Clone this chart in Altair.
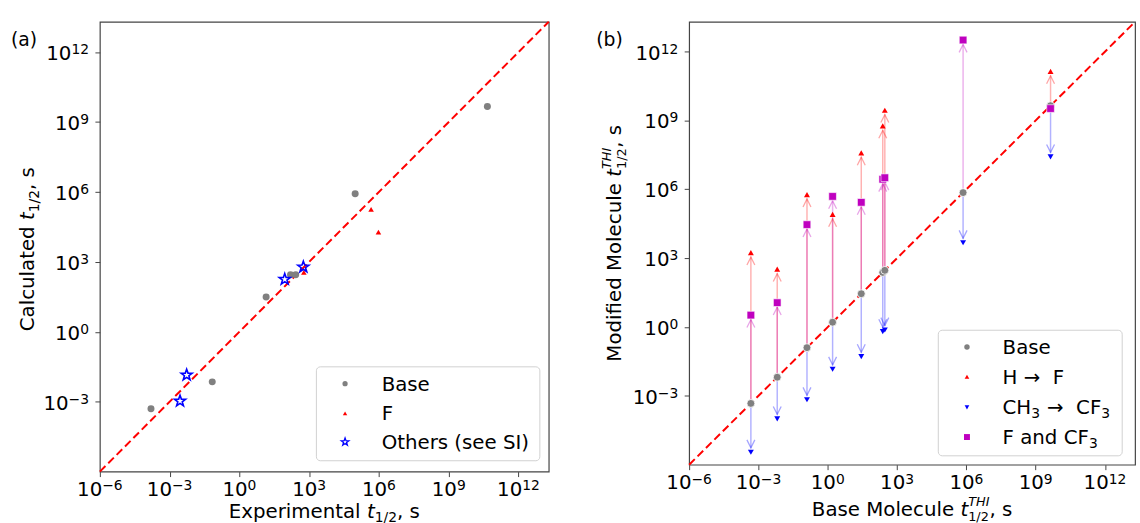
import math
import altair as alt
import pandas as pd

# ---------------- data: panel (a) ----------------
base_exp = [1.58e-4, 0.068, 14.1, 158, 263, 9.5e4, 4.6e10]
base_calc = [5.0e-4, 7.1e-3, 31, 282, 282, 8.3e5, 4.6e9]
f_exp = [589, 4.6e5, 9.5e5]
f_calc = [355, 1.8e5, 1.9e4]
oth_exp = [2.8e-3, 5.4e-3, 89, 562]
oth_calc = [1.07e-3, 0.014, 178, 603]

# ---------------- data: panel (b) ----------------
base_thi = [4.7e-4, 6.5e-3, 0.126, 1.62, 28.2, 240, 295, 7.2e5, 4.4e9]
h_to_f = [1.74e3, 331, 5.9e5, 8.1e4, 3.9e7, 5.8e8, 2.8e9, None, 1.38e11]
ch3_to_cf3 = [3.5e-6, 1.0e-4, 6.8e-4, 0.0145, 0.051, 0.63, 0.74, 4.7e3, 2.6e7]
f_and_cf3 = [3.3, 11.5, 2.9e4, 4.9e5, 2.7e5, 2.75e6, 3.2e6, 3.2e12, 3.3e9]

diag = [1e-6, 2e13]
tick_vals = [1e-6, 1e-3, 1, 1e3, 1e6, 1e9, 1e12]
tick_exps = ["−6", "−3", "0", "3", "6", "9", "12"]

NB = "\u00a0"
# legend pieces: (text, font size, baseline shift, gap before)
legend_a = [[("Base", 20, 0, 0)], [("F", 20, 0, 0)], [("Others (see SI)", 20, 0, 0)]]
legend_b = [[("Base", 20, 0, 0)], [("H" + NB + "→" + NB + NB + "F", 20, 0, 0)],
            [("CH", 20, 0, 0), ("3", 14, 4, 0), ("→" + NB + NB + "CF", 20, 0, 7), ("3", 14, 4, 0)],
            [("F and CF", 20, 0, 0), ("3", 14, 4, 0)]]
kinds = ["H → F", "CH3 → CF3", "F and CF3"]
kind_colors = ["#ff0000", "#0000ff", "#bf00bf"]

FONT = "DejaVu Sans"
W = {' ': 318, NB: 318, ',': 318, '/': 337, '−': 838, '→': 838, '(': 390, ')': 390,
     '0': 636, '1': 636, '2': 636, '3': 636, '6': 636, '9': 636,
     'C': 698, 'E': 632, 'B': 686, 'F': 575, 'M': 863, 'T': 611, 'H': 752,
     'I': 295, 'O': 787, 'S': 635,
     'a': 613, 'c': 550, 'd': 635, 'e': 615, 'f': 352, 'h': 634, 'i': 278,
     'l': 278, 'm': 974, 'n': 634, 'o': 612, 'p': 635, 'r': 411, 's': 521,
     't': 392, 'u': 634, 'x': 592}

one = pd.DataFrame({"k": [0]})


def text_width(s, size):
    return sum(W.get(ch, 600) for ch in s) * size / 1000.0


def make_axis(vals):
    return alt.Axis(values=vals, labels=False, title=None, grid=False, domain=False,
                    tickSize=5, tickColor="#444", tickWidth=1)


SC = alt.Scale(type="log", domain=diag, nice=False)
AX_X = make_axis(tick_vals)
AX_Y = make_axis(tick_vals[1:])


def X(f):
    return alt.X(f"{f}:Q", scale=SC, axis=AX_X)


def Y(f):
    return alt.Y(f"{f}:Q", scale=SC, axis=AX_Y)


TXT = dict(font=FONT, color="black", baseline="alphabetic")
W10 = text_width("10", 20)


def tick_label_layers(H):
    out = []
    for v, e in zip(tick_vals, tick_exps):
        d = pd.DataFrame({"v": [v]})
        we = text_width(e, 14)
        total = W10 + we
        out.append(alt.Chart(d).mark_text(text="10", fontSize=20, align="left",
                                          dx=-total / 2, **TXT).encode(
            x=X("v"), y=alt.value(H + 25)))
        out.append(alt.Chart(d).mark_text(text=e, fontSize=14, align="left",
                                          dx=-total / 2 + W10, **TXT).encode(
            x=X("v"), y=alt.value(H + 19)))
    for v, e in zip(tick_vals[1:], tick_exps[1:]):
        d = pd.DataFrame({"v": [v]})
        we = text_width(e, 14)
        out.append(alt.Chart(d).mark_text(text="10", fontSize=20, align="right",
                                          dy=8, **TXT).encode(
            x=alt.value(-11 - we), y=Y("v")))
        out.append(alt.Chart(d).mark_text(text=e, fontSize=14, align="right",
                                          dy=2, **TXT).encode(
            x=alt.value(-11), y=Y("v")))
    return out


def title_layers(groups, horizontal, center, base):
    adv = [max(text_width(t, s) for t, s, it, sh in g) for g in groups]
    total = sum(adv)
    out = []
    off = 0.0
    for g, a in zip(groups, adv):
        for t, s, it, sh in g:
            kw = dict(text=t, fontSize=s, fontStyle="italic" if it else "normal",
                      align="left", **TXT)
            if horizontal:
                m = alt.Chart(one).mark_text(**kw).encode(
                    x=alt.value(center - total / 2 + off), y=alt.value(base + sh))
            else:
                m = alt.Chart(one).mark_text(angle=270, **kw).encode(
                    x=alt.value(base + sh), y=alt.value(center + total / 2 - off))
            out.append(m)
        off += a
    return out


def legend_layers(box, sym_x, text_x, rows):
    out = [alt.Chart(one).mark_rect(cornerRadius=4, fill="white", fillOpacity=0.8,
                                    stroke="#d0d0d0", strokeWidth=1).encode(
        x=alt.value(box[0]), y=alt.value(box[1]),
        x2=alt.value(box[2]), y2=alt.value(box[3]))]
    for parts, py, mk in rows:
        out.append(alt.Chart(one).mark_point(opacity=1, **mk).encode(
            x=alt.value(sym_x), y=alt.value(py)))
        off = 0.0
        for t, s, sh, gap in parts:
            off += gap
            out.append(alt.Chart(one).mark_text(text=t, fontSize=s, align="left", **TXT).encode(
                x=alt.value(text_x + off), y=alt.value(py + 7 + sh)))
            off += text_width(t, s)
    return out


# star symbol path
pts = []
for k in range(10):
    r = 1.0 if k % 2 == 0 else 0.4
    a = math.radians(-90 + 36 * k)
    pts.append(f"{r * math.cos(a):.3f},{r * math.sin(a):.3f}")
STAR = "M" + "L".join(pts) + "Z"
CHEV_UP = "M-0.5,1L0,0L0.5,1"
CHEV_DN = "M-0.5,-1L0,0L0.5,-1"

# ---------------- panel (a) ----------------
df_diag = pd.DataFrame({"v": diag})
df_base_a = pd.DataFrame({"x": base_exp, "y": base_calc})
df_f_a = pd.DataFrame({"x": f_exp, "y": f_calc})
df_o_a = pd.DataFrame({"x": oth_exp, "y": oth_calc})

WA, HA = 454, 455
diag_line = alt.Chart(df_diag).mark_line(color="red", strokeDash=[8, 4], strokeWidth=2).encode(
    x=X("v"), y=Y("v"))

layers_a = [
    diag_line,
    alt.Chart(df_base_a).mark_point(shape="circle", filled=True, color="#808080", size=50, opacity=1).encode(x=X("x"), y=Y("y")),
    alt.Chart(df_f_a).mark_point(shape="triangle-up", filled=True, color="red", size=32, opacity=1).encode(x=X("x"), y=Y("y")),
    alt.Chart(df_o_a).mark_point(shape=STAR, filled=False, color="blue", strokeWidth=1.6, size=140, opacity=1).encode(x=X("x"), y=Y("y")),
]
layers_a += tick_label_layers(HA)
layers_a += legend_layers((219, 349, 445, 444), 248, 285, [
    (legend_a[0], 366, dict(shape="circle", filled=True, color="#808080", size=28)),
    (legend_a[1], 396, dict(shape="triangle-up", filled=True, color="red", size=20)),
    (legend_a[2], 425, dict(shape=STAR, filled=False, color="blue", strokeWidth=1.3, size=64)),
])
layers_a.append(alt.Chart(one).mark_text(text="(a)", font=FONT, fontSize=19, align="left",
                                         baseline="middle", color="black").encode(
    x=alt.value(-90), y=alt.value(19)))
layers_a += title_layers([[("Experimental ", 20, False, 0)], [("t", 20, True, 0)],
                          [("1/2", 14, False, 4)], [(", s", 20, False, 0)]],
                         True, WA / 2, HA + 47)
layers_a += title_layers([[("Calculated ", 20, False, 0)], [("t", 20, True, 0)],
                          [("1/2", 14, False, 5)], [(", s", 20, False, 0)]],
                         False, 230, -67)
panel_a = alt.layer(*layers_a).properties(width=WA, height=HA)

# ---------------- panel (b) ----------------
WB, HB = 451, 448
up_rows, dn_rows, pts_rows = [], [], []
for i, b in enumerate(base_thi):
    for kind, series in zip(kinds, [h_to_f, ch3_to_cf3, f_and_cf3]):
        t = series[i]
        if t is None:
            continue
        pts_rows.append({"x": b, "y": t, "kind": kind})
        if abs(math.log10(t) - math.log10(b)) < 0.5:
            continue
        row = {"x": b, "y0": b, "y1": t, "kind": kind}
        (up_rows if t > b else dn_rows).append(row)
df_up = pd.DataFrame(up_rows)
df_dn = pd.DataFrame(dn_rows)
df_base_b = pd.DataFrame({"x": base_thi, "y": base_thi})
df_pts = pd.DataFrame(pts_rows)

CCOL = alt.Color("kind:N", scale=alt.Scale(domain=kinds, range=kind_colors), legend=None)

layers_b = [
    alt.Chart(df_up).mark_rule(strokeWidth=1.5, opacity=0.3, y2Offset=4).encode(
        x=X("x"), y=Y("y0"), y2="y1:Q", color=CCOL),
    alt.Chart(df_dn).mark_rule(strokeWidth=1.5, opacity=0.3, y2Offset=-4).encode(
        x=X("x"), y=Y("y0"), y2="y1:Q", color=CCOL),
    alt.Chart(df_up).mark_point(shape=CHEV_UP, filled=False, size=256, strokeWidth=1.3,
                                opacity=0.35, yOffset=4.5).encode(x=X("x"), y=Y("y1"), color=CCOL),
    alt.Chart(df_dn).mark_point(shape=CHEV_DN, filled=False, size=256, strokeWidth=1.3,
                                opacity=0.35, yOffset=-4.5).encode(x=X("x"), y=Y("y1"), color=CCOL),
    diag_line,
    alt.Chart(df_base_b).mark_point(shape="circle", filled=True, color="#808080", size=64,
                                    opacity=1, stroke="white", strokeWidth=0.8).encode(x=X("x"), y=Y("y")),
    alt.Chart(df_pts[df_pts.kind == kinds[0]]).mark_point(shape="triangle-up", filled=True, color="red",
                                                          size=36, opacity=1).encode(x=X("x"), y=Y("y")),
    alt.Chart(df_pts[df_pts.kind == kinds[1]]).mark_point(shape="triangle-down", filled=True, color="blue",
                                                          size=36, opacity=1).encode(x=X("x"), y=Y("y")),
    alt.Chart(df_pts[df_pts.kind == kinds[2]]).mark_point(shape="square", filled=True, color="#bf00bf",
                                                          size=60, opacity=1, stroke="white",
                                                          strokeWidth=0.6).encode(x=X("x"), y=Y("y")),
]
layers_b += tick_label_layers(HB)
layers_b += legend_layers((252, 312, 438, 439), 281, 317, [
    (legend_b[0], 329, dict(shape="circle", filled=True, color="#808080", size=30)),
    (legend_b[1], 359, dict(shape="triangle-up", filled=True, color="red", size=22)),
    (legend_b[2], 390, dict(shape="triangle-down", filled=True, color="blue", size=22)),
    (legend_b[3], 420, dict(shape="square", filled=True, color="#bf00bf", size=36)),
])
layers_b.append(alt.Chart(one).mark_text(text="(b)", font=FONT, fontSize=19, align="left",
                                         baseline="middle", color="black").encode(
    x=alt.value(-94), y=alt.value(19)))
layers_b += title_layers([[("Base Molecule ", 20, False, 0)], [("t", 20, True, 0)],
                          [("THI", 13, True, -10), ("1/2", 13, False, 5)], [(", s", 20, False, 0)]],
                         True, WB / 2, HB + 52)
layers_b += title_layers([[("Modified Molecule ", 20, False, 0)], [("t", 20, True, 0)],
                          [("THI", 13, True, -10), ("1/2", 13, False, 5)], [(", s", 20, False, 0)]],
                         False, 224, -69)
panel_b = alt.layer(*layers_b).properties(width=WB, height=HB)

chart = alt.hconcat(panel_a, panel_b, spacing=142, bounds="flush").properties(
    padding={"left": 10, "top": 14, "right": 0, "bottom": 0},
    background="white",
).configure_view(stroke="#444", strokeWidth=1.2)

chart.save("out.html", embed_options={"renderer": "svg", "actions": False})
